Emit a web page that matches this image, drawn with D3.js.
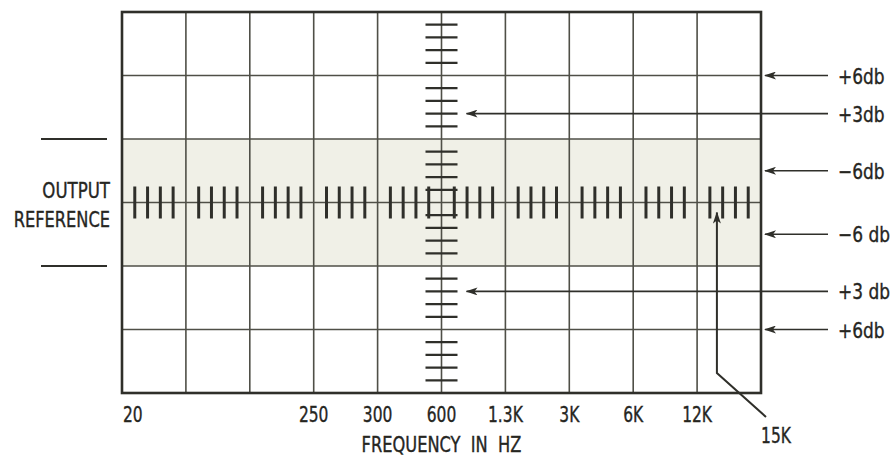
<!DOCTYPE html>
<html>
<head>
<meta charset="utf-8">
<script src="https://cdn.jsdelivr.net/npm/d3@7"></script>
<style>
  body { margin: 0; background: #fff; }
  text { font-family: "DejaVu Sans Condensed", "DejaVu Sans", sans-serif; fill: #26261f; stroke: #26261f; stroke-width: 0.35; }
</style>
</head>
<body>
<svg id="chart"></svg>
<script>
// ---- data: graticule divisions and labels ----
const colDivs = d3.range(0, 11);          // 10 columns
const rowDivs = d3.range(-3, 4);          // 6 rows
const freqLabels = ["20", "250", "300", "600", "1.3K", "3K", "6K", "12K"];
const freqDivs = [0, 3, 4, 5, 6, 7, 8, 9];
const bandDivs = [-1, 1];                 // output reference band
const dbLabels = ["+6db", "+3db", "\u22126db", "\u22126 db", "+3 db", "+6db"];
const dbDivs = [2, 1.4, 0.5, -0.5, -1.4, -2];
const dbLong = [false, true, false, false, true, false];
const pointerLabel = "15K";
const pointerDiv = 9.31;

const width = 893, height = 457;
const ink = "#2f2f2a";

const svg = d3.select("#chart").attr("width", width).attr("height", height);

const x = d3.scaleLinear().domain([0, 10]).range([122, 761]);
const y = d3.scaleLinear().domain([-3, 3]).range([393, 12]);

// condensed text: squeeze horizontally around its anchor
function label(g, tx, ty, str, size, anchor, sx) {
  return g.append("text")
    .attr("transform", `translate(${tx},${ty}) scale(${sx || 0.84},1)`)
    .attr("text-anchor", anchor || "middle")
    .attr("font-size", size)
    .text(str);
}

//======== arrow marker ========
svg.append("defs").append("marker")
  .attr("id", "arrow")
  .attr("viewBox", "0 0 12 8")
  .attr("refX", 11).attr("refY", 4)
  .attr("markerWidth", 12).attr("markerHeight", 8)
  .attr("markerUnits", "userSpaceOnUse")
  .attr("orient", "auto")
  .append("path")
  .attr("d", "M12,4 L0,0 L3,4 L0,8 Z")
  .attr("fill", ink);

//======== shaded band ========
svg.append("rect")
  .attr("x", x(0)).attr("y", y(bandDivs[1]))
  .attr("width", x(10) - x(0)).attr("height", y(bandDivs[0]) - y(bandDivs[1]))
  .attr("fill", "#f0f0e7");

//======== grid ========
svg.append("g").selectAll("line").data(colDivs.slice(1, -1)).join("line")
  .attr("x1", d => x(d)).attr("x2", d => x(d))
  .attr("y1", y(-3)).attr("y2", y(3))
  .attr("stroke", "#4f4f47").attr("stroke-width", 1.6);

svg.append("g").selectAll("line").data(rowDivs.slice(1, -1)).join("line")
  .attr("x1", x(0)).attr("x2", x(10))
  .attr("y1", d => y(d)).attr("y2", d => y(d))
  .attr("stroke", "#4f4f47").attr("stroke-width", 1.6);

svg.append("rect")
  .attr("x", x(0)).attr("y", y(3))
  .attr("width", x(10) - x(0)).attr("height", y(-3) - y(3))
  .attr("fill", "none").attr("stroke", ink).attr("stroke-width", 2.6);

//======== minor ticks on centre lines ========
const subX = d3.range(0, 50).map(i => i / 5).filter(d => d % 1 !== 0);
const subY = d3.range(-15, 15).map(i => i / 5).filter(d => d % 1 !== 0);

svg.append("g").selectAll("line").data(subX).join("line")
  .attr("x1", d => x(d)).attr("x2", d => x(d))
  .attr("y1", y(0) - 16).attr("y2", y(0) + 16)
  .attr("stroke", ink).attr("stroke-width", 3);

svg.append("g").selectAll("line").data(subY).join("line")
  .attr("x1", x(5) - 16).attr("x2", x(5) + 16)
  .attr("y1", d => y(d)).attr("y2", d => y(d))
  .attr("stroke", ink).attr("stroke-width", 2.3);

//======== frequency labels ========
const axisG = svg.append("g");
freqLabels.forEach((d, i) => {
  const first = freqDivs[i] === 0;
  label(axisG, first ? x(0) + 1 : x(freqDivs[i]), 422, d, 21, first ? "start" : "middle", 0.82);
});

label(svg, x(5), 452, "FREQUENCY\u00a0\u00a0IN\u00a0\u00a0HZ", 21, "middle", 0.86);

//======== output reference (left) ========
svg.append("g").selectAll("line").data(bandDivs).join("line")
  .attr("x1", 41).attr("x2", 107)
  .attr("y1", d => y(d)).attr("y2", d => y(d))
  .attr("stroke", ink).attr("stroke-width", 2);

label(svg, 110, 198, "OUTPUT", 22, "end", 0.84);
label(svg, 110, 227, "REFERENCE", 22, "end", 0.82);

//======== db arrows (right) ========
const right = x(10);
const dbG = svg.append("g");
dbLabels.forEach((d, i) => {
  const yy = y(dbDivs[i]);
  dbG.append("line")
    .attr("x1", right + 67)
    .attr("x2", dbLong[i] ? x(5) + 25 : right + 4)
    .attr("y1", yy).attr("y2", yy)
    .attr("stroke", ink).attr("stroke-width", 1.6)
    .attr("marker-end", "url(#arrow)");
  label(dbG, right + 77, yy + 8, d, 22, "start", 0.86);
});

//======== 15K pointer ========
const px = x(pointerDiv);
svg.append("path")
  .attr("d", d3.line()([[right + 5, y(-3) + 24], [px, y(-3) - 20], [px, y(0) + 10]]))
  .attr("fill", "none").attr("stroke", ink).attr("stroke-width", 2)
  .attr("marker-end", "url(#arrow)");

label(svg, right + 15, 443, pointerLabel, 21, "middle", 0.82);
</script>
</body>
</html>
